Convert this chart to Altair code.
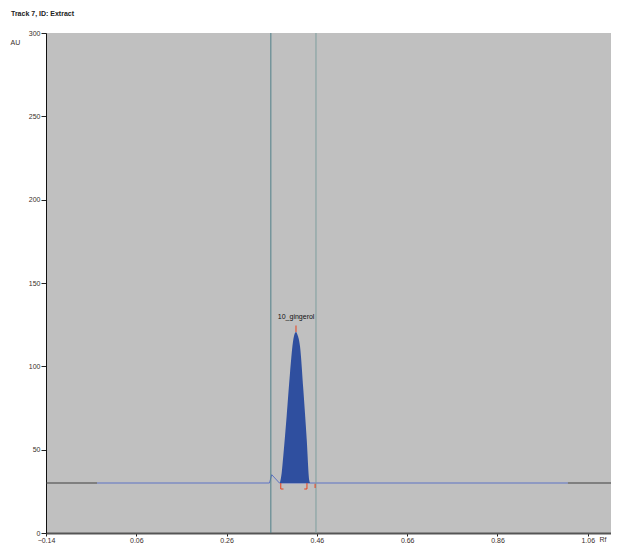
import altair as alt
import pandas as pd

# Peak (10_gingerol) outline, Rf vs AU
peak_x = [0.378, 0.382, 0.3856, 0.393, 0.4004, 0.4077, 0.410, 0.4137, 0.417, 0.4226, 0.4299, 0.4374, 0.4432, 0.445]
peak_y = [30, 36, 46.3, 70.1, 95.8, 115.9, 119.0, 120.6, 119.0, 112.0, 86.2, 56.4, 31.5, 30]

# Baseline trace segments
base_seg = ["left", "left", "mid", "mid", "mid", "mid", "mid", "right", "right"]
base_x = [-0.14, -0.027, -0.027, 0.355, 0.36, 0.377, 1.016, 1.016, 1.1114]
base_y = [30, 30, 30, 30, 35, 30, 30, 30, 30]

# Vertical marker lines
vline_x = [0.358, 0.458]
vline_c = ["a", "b"]

# Red integration markers (segments)
red_x = [0.380, 0.380, 0.438, 0.432, 0.456, 0.4137]
red_x2 = [0.380, 0.386, 0.438, 0.438, 0.456, 0.4137]
red_y = [26.4, 26.4, 26.4, 26.4, 27.0, 120.6]
red_y2 = [30, 26.4, 30, 26.4, 29.5, 124.5]

label_txt = ["10_gingerol"]
label_x = [0.414]
label_y = [128]

x_ticks = [-0.14, 0.06, 0.26, 0.46, 0.66, 0.86, 1.06]
y_ticks = [0, 50, 100, 150, 200, 250, 300]

xs = alt.Scale(domain=[-0.14, 1.1114], nice=False, zero=False)
ys = alt.Scale(domain=[0, 300], nice=False)

peak_df = pd.DataFrame({"x": peak_x, "y": peak_y, "b": [30] * len(peak_x)})
base_df = pd.DataFrame({"x": base_x, "y": base_y, "s": base_seg, "o": list(range(len(base_x)))})
vl_df = pd.DataFrame({"x": vline_x, "c": vline_c})
red_df = pd.DataFrame({"x": red_x, "x2": red_x2, "y": red_y, "y2": red_y2})
lab_df = pd.DataFrame({"x": label_x, "y": label_y, "t": label_txt})

axis_common = dict(labelFont="Liberation Sans", labelFontSize=7, labelColor="#3a2e2a",
                   tickColor="#222", grid=False, titleFont="Liberation Sans",
                   titleColor="#3a2e2a", titleLimit=200)

x_enc = alt.X("x:Q", scale=xs, axis=alt.Axis(values=x_ticks, format=".2f", tickSize=3,
              domainColor="#555", domainWidth=2, labelPadding=0, labelFlush=False,
              title="Rf", titleFontSize=7, titleFontWeight="normal", titleX=553, titleY=2,
              titleAlign="left", titleBaseline="top", **axis_common))
y_enc = alt.Y("y:Q", scale=ys, axis=alt.Axis(values=y_ticks, format="d", tickSize=5,
              domainColor="#111", domainWidth=1, labelPadding=1,
              title="AU", titleAngle=0, titleFontSize=7, titleFontWeight="normal",
              titleX=-36, titleY=9, titleAlign="left", titleBaseline="middle",
              **axis_common))

vlines = alt.Chart(vl_df).mark_rule(strokeWidth=1).encode(
    x=alt.X("x:Q", scale=xs),
    color=alt.Color("c:N", scale=alt.Scale(domain=["a", "b"], range=["#4f7f88", "#7e9e9e"]), legend=None),
)

base = alt.Chart(base_df).mark_line(strokeWidth=1).encode(
    x=x_enc, y=y_enc, order="o:Q",
    color=alt.Color("s:N", scale=alt.Scale(domain=["left", "mid", "right"],
                                           range=["#3e3e3e", "#5d72c4", "#3e3e3e"]), legend=None),
    detail="s:N",
)

peak = alt.Chart(peak_df).mark_area(color="#2f4f9f", opacity=1, interpolate="monotone").encode(
    x=alt.X("x:Q", scale=xs), y=alt.Y("y:Q", scale=ys), y2="b:Q",
)

red = alt.Chart(red_df).mark_rule(color="#e8401c", strokeWidth=1).encode(
    x=alt.X("x:Q", scale=xs), x2="x2:Q", y=alt.Y("y:Q", scale=ys), y2="y2:Q",
)

label = alt.Chart(lab_df).mark_text(font="Liberation Sans", fontSize=7, color="#111",
                                    baseline="bottom").encode(
    x=alt.X("x:Q", scale=xs), y=alt.Y("y:Q", scale=ys), text="t:N",
)

chart = alt.layer(base, vlines, peak, red, label).resolve_scale(color="independent").properties(
    width=565, height=500,
    title=alt.TitleParams("Track 7, ID: Extract", anchor="start", fontSize=7, fontWeight="bold",
                          font="Liberation Sans", color="#222", offset=12, dx=1),
    autosize=alt.AutoSizeParams(type="none"),
    padding={"left": 38, "top": 25, "right": 0, "bottom": 10},
).configure(background="white").configure_view(fill="#c0c0c0", stroke=None)

chart.save("out.html", embed_options={"renderer": "svg", "actions": False})
